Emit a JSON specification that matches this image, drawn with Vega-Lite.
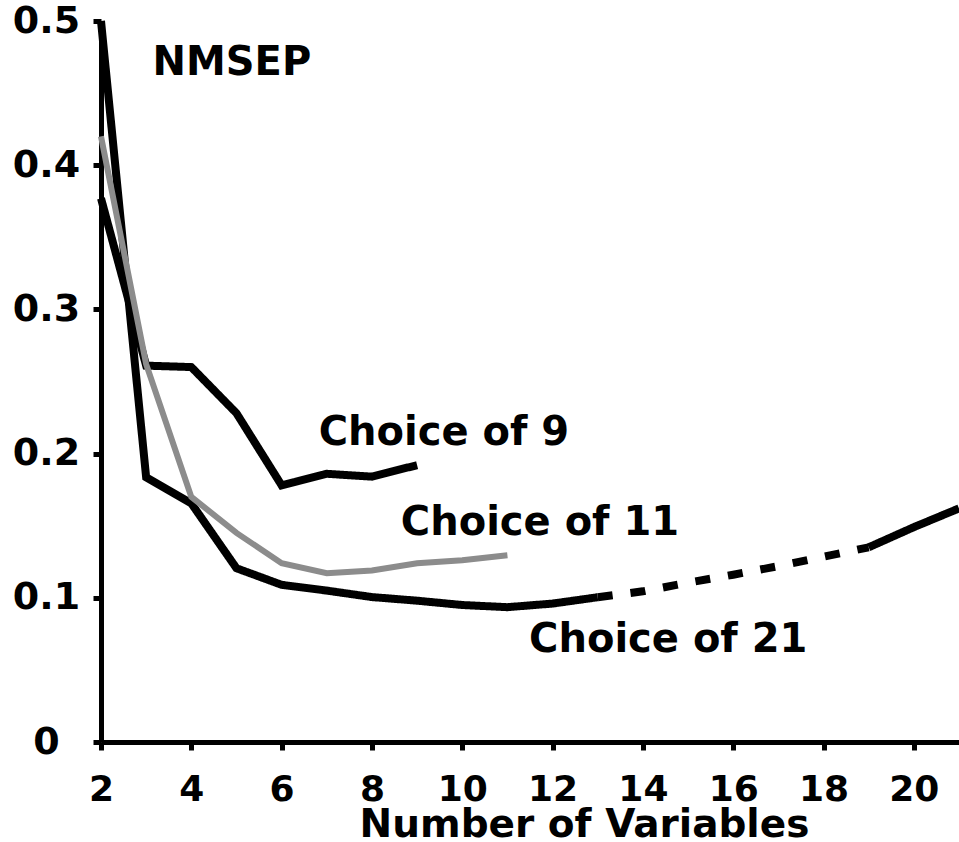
{
  "$schema": "https://vega.github.io/schema/vega-lite/v6.json",
  "autosize": "none",
  "width": 858,
  "height": 721,
  "padding": {"left": 101, "top": 21, "right": 0, "bottom": 100},
  "background": "white",
  "config": {
    "view": {"stroke": null},
    "font": "DejaVu Sans",
    "axis": {
      "domainColor": "black",
      "domainWidth": 5,
      "tickColor": "black",
      "tickWidth": 5,
      "tickSize": 8,
      "grid": false,
      "labelFont": "DejaVu Sans",
      "labelFontWeight": "bold",
      "labelColor": "black",
      "titleFont": "DejaVu Sans",
      "titleFontWeight": "bold",
      "titleColor": "black"
    }
  },
  "datasets": {
    "lines": [
      {"series": "Choice of 9", "seg": "9", "dash": "solid", "x": 2, "y": 0.377},
      {"series": "Choice of 9", "seg": "9", "dash": "solid", "x": 3, "y": 0.261},
      {"series": "Choice of 9", "seg": "9", "dash": "solid", "x": 4, "y": 0.26},
      {"series": "Choice of 9", "seg": "9", "dash": "solid", "x": 5, "y": 0.228},
      {"series": "Choice of 9", "seg": "9", "dash": "solid", "x": 6, "y": 0.178},
      {"series": "Choice of 9", "seg": "9", "dash": "solid", "x": 7, "y": 0.186},
      {"series": "Choice of 9", "seg": "9", "dash": "solid", "x": 8, "y": 0.184},
      {"series": "Choice of 9", "seg": "9", "dash": "solid", "x": 9, "y": 0.192},
      {"series": "Choice of 21", "seg": "21a", "dash": "solid", "x": 2, "y": 0.5},
      {"series": "Choice of 21", "seg": "21a", "dash": "solid", "x": 3, "y": 0.1835},
      {"series": "Choice of 21", "seg": "21a", "dash": "solid", "x": 4, "y": 0.1655},
      {"series": "Choice of 21", "seg": "21a", "dash": "solid", "x": 5, "y": 0.1205},
      {"series": "Choice of 21", "seg": "21a", "dash": "solid", "x": 6, "y": 0.109},
      {"series": "Choice of 21", "seg": "21a", "dash": "solid", "x": 7, "y": 0.105},
      {"series": "Choice of 21", "seg": "21a", "dash": "solid", "x": 8, "y": 0.1005},
      {"series": "Choice of 21", "seg": "21a", "dash": "solid", "x": 9, "y": 0.098},
      {"series": "Choice of 21", "seg": "21a", "dash": "solid", "x": 10, "y": 0.095},
      {"series": "Choice of 21", "seg": "21a", "dash": "solid", "x": 11, "y": 0.0935},
      {"series": "Choice of 21", "seg": "21a", "dash": "solid", "x": 12, "y": 0.096},
      {"series": "Choice of 21", "seg": "21a", "dash": "solid", "x": 13, "y": 0.1004},
      {"series": "Choice of 21", "seg": "21b", "dash": "dashed", "x": 13, "y": 0.1004},
      {"series": "Choice of 21", "seg": "21b", "dash": "dashed", "x": 14, "y": 0.1045},
      {"series": "Choice of 21", "seg": "21b", "dash": "dashed", "x": 15, "y": 0.1105},
      {"series": "Choice of 21", "seg": "21b", "dash": "dashed", "x": 16, "y": 0.116},
      {"series": "Choice of 21", "seg": "21b", "dash": "dashed", "x": 17, "y": 0.122},
      {"series": "Choice of 21", "seg": "21b", "dash": "dashed", "x": 18, "y": 0.1285},
      {"series": "Choice of 21", "seg": "21b", "dash": "dashed", "x": 19, "y": 0.135},
      {"series": "Choice of 21", "seg": "21c", "dash": "solid", "x": 19, "y": 0.135},
      {"series": "Choice of 21", "seg": "21c", "dash": "solid", "x": 20, "y": 0.149},
      {"series": "Choice of 21", "seg": "21c", "dash": "solid", "x": 21, "y": 0.162}
    ],
    "gray": [
      {"series": "Choice of 11", "x": 2, "y": 0.42},
      {"series": "Choice of 11", "x": 3, "y": 0.262},
      {"series": "Choice of 11", "x": 4, "y": 0.17},
      {"series": "Choice of 11", "x": 5, "y": 0.145},
      {"series": "Choice of 11", "x": 6, "y": 0.124},
      {"series": "Choice of 11", "x": 7, "y": 0.117},
      {"series": "Choice of 11", "x": 8, "y": 0.119},
      {"series": "Choice of 11", "x": 9, "y": 0.124},
      {"series": "Choice of 11", "x": 10, "y": 0.126},
      {"series": "Choice of 11", "x": 11, "y": 0.1295}
    ],
    "labels": [
      {"label": "Choice of 9", "x": 6.82, "y": 0.2057},
      {"label": "Choice of 11", "x": 8.64, "y": 0.1434},
      {"label": "Choice of 21", "x": 11.48, "y": 0.0623}
    ]
  },
  "layer": [
    {
      "data": {"name": "lines"},
      "mark": {"type": "line", "color": "black", "strokeWidth": 8, "strokeCap": "butt", "clip": false},
      "encoding": {
        "x": {
          "field": "x", "type": "quantitative",
          "scale": {"domain": [2, 21], "nice": false, "zero": false},
          "axis": {
            "values": [2, 4, 6, 8, 10, 12, 14, 16, 18, 20],
            "labelFontSize": 36,
            "labelPadding": 50,
            "labelBaseline": "alphabetic",
            "labelDx": 8,
            "labelFlush": false,
            "title": "Number of Variables",
            "titleFontSize": 39,
            "titleX": 483,
            "titleY": 94,
            "titleAlign": "center",
            "titleBaseline": "alphabetic"
          }
        },
        "y": {
          "field": "y", "type": "quantitative",
          "scale": {"domain": [0, 0.5], "nice": false},
          "axis": {
            "values": [0, 0.1, 0.2, 0.3, 0.4, 0.5],
            "format": ".1~f",
            "labelFontSize": 38,
            "labelAlign": "center",
            "labelBaseline": "middle",
            "labelPadding": 47,
            "labelDy": 5,
            "labelFlush": false,
            "title": "NMSEP",
            "titleFontSize": 40,
            "titleAngle": 0,
            "titleX": 51,
            "titleY": 53,
            "titleAlign": "left",
            "titleBaseline": "alphabetic"
          }
        },
        "detail": {"field": "seg"},
        "strokeDash": {
          "field": "dash", "type": "nominal",
          "scale": {"domain": ["solid", "dashed"], "range": [[1, 0], [15, 18]]},
          "legend": null
        }
      }
    },
    {
      "data": {"name": "gray"},
      "mark": {"type": "line", "color": "#8c8c8c", "strokeWidth": 6, "clip": false},
      "encoding": {
        "x": {"field": "x", "type": "quantitative"},
        "y": {"field": "y", "type": "quantitative"}
      }
    },
    {
      "data": {"name": "labels"},
      "mark": {"type": "text", "align": "left", "baseline": "alphabetic", "font": "DejaVu Sans", "fontWeight": "bold", "fontSize": 40, "color": "black"},
      "encoding": {
        "x": {"field": "x", "type": "quantitative"},
        "y": {"field": "y", "type": "quantitative"},
        "text": {"field": "label"}
      }
    }
  ]
}
